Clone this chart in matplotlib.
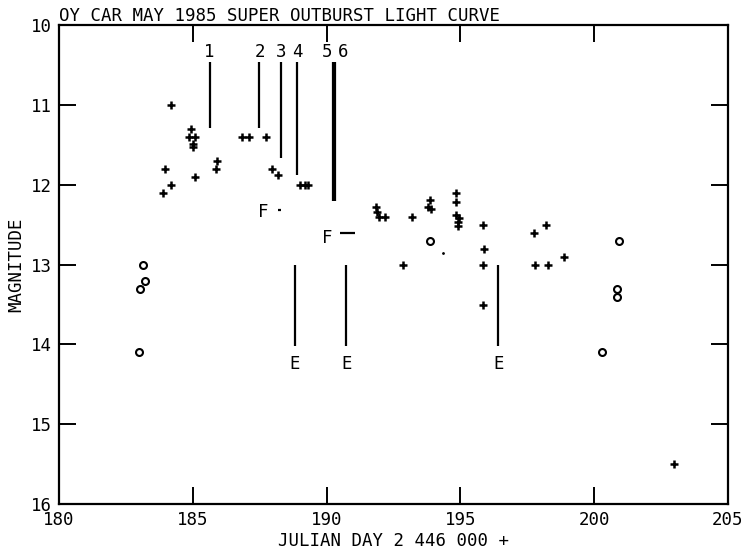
# oy_car_lightcurve.py
import matplotlib
matplotlib.use("Agg")
import matplotlib.pyplot as plt

OUT_PATH = "out.png"

# visual estimates (+), JD 2446000 + day
plus_days = [183.9, 183.95, 184.2, 184.2,
             184.95, 184.85, 185.1, 185.0, 185.0, 185.1,
             185.9, 185.85,
             186.85, 187.1, 187.75,
             187.95, 188.2,
             189.0, 189.2, 189.3,
             191.85, 191.9, 191.95, 192.2,
             192.85, 193.2,
             193.85, 193.8, 193.9,
             194.85, 194.85,
             194.85, 194.95, 194.9, 194.9,
             195.83, 195.9, 195.83, 195.85,
             197.75, 198.2, 197.8, 198.27, 198.87,
             203.0]
plus_mags = [12.1, 11.8, 12.0, 11.0,
             11.3, 11.4, 11.4, 11.48, 11.52, 11.9,
             11.7, 11.8,
             11.4, 11.4, 11.4,
             11.8, 11.88,
             12.0, 12.0, 12.0,
             12.28, 12.34, 12.4, 12.4,
             13.0, 12.4,
             12.19, 12.27, 12.3,
             12.1, 12.21,
             12.38, 12.42, 12.47, 12.51,
             12.5, 12.8, 13.0, 13.5,
             12.6, 12.5, 13.0, 13.0, 12.9,
             15.5]

# open circles
circle_days = [183.13, 183.2, 183.03, 183.0, 193.85, 200.3, 200.92, 200.85, 200.85]
circle_mags = [13.0, 13.2, 13.3, 14.1, 12.7, 14.1, 12.7, 13.3, 13.4]

# numbered markers at the top
event_labels = ["1", "2", "3", "4", "5", "6"]
event_days = [185.63, 187.49, 188.28, 188.91, 190.23, 190.31]
event_label_days = [185.6, 187.5, 188.3, 188.9, 190.0, 190.6]
event_bottoms = [11.29, 11.29, 11.66, 11.87, 12.2, 12.2]

# E markers
e_days = [188.82, 190.73, 196.42]

# F markers with their dashes
f_days = [187.62, 190.02]
f_mags = [12.34, 12.66]
f_dash_start = [188.2, 190.5]
f_dash_end = [188.3, 191.05]
f_dash_mags = [12.31, 12.6]

FONT = "DejaVu Sans Mono"


def main():
    plt.rcParams["font.family"] = FONT
    plt.rcParams["font.size"] = 12.5

    fig = plt.figure(figsize=(7.43, 5.54), dpi=100)
    ax = fig.add_axes([0.0794, 0.0903, 0.9004, 0.8637])

    ax.plot(plus_days, plus_mags, linestyle="none", marker="+",
            color="black", markersize=6, markeredgewidth=1.8)
    ax.plot(circle_days, circle_mags, linestyle="none", marker="o",
            markerfacecolor="none", markeredgecolor="black",
            markersize=5, markeredgewidth=1.5)
    ax.plot([194.34], [12.85], linestyle="none", marker=".",
            color="black", markersize=2)

    for lab, x, xl, yb in zip(event_labels, event_days, event_label_days, event_bottoms):
        ax.vlines(x, 10.46, yb, color="black", linewidth=1.6)
        ax.text(xl, 10.33, lab, ha="center", va="center")

    for x in e_days:
        ax.vlines(x, 13.0, 14.02, color="black", linewidth=1.6)
        ax.text(x, 14.25, "E", ha="center", va="center")

    for x, y in zip(f_days, f_mags):
        ax.text(x, y, "F", ha="center", va="center")
    ax.hlines(f_dash_mags, f_dash_start, f_dash_end, color="black", linewidth=1.6)

    ax.set_xlim(180, 205)
    ax.set_ylim(16, 10)
    ax.set_xticks([180, 185, 190, 195, 200, 205])
    ax.set_yticks([10, 11, 12, 13, 14, 15, 16])
    ax.tick_params(direction="in", length=12, width=1.4, top=True, right=True,
                   labelsize=12.5, pad=5)
    for sp in ax.spines.values():
        sp.set_linewidth(1.6)

    ax.set_xlabel("JULIAN DAY 2 446 000 +", labelpad=2)
    ax.set_ylabel("MAGNITUDE", labelpad=4)
    ax.text(0.0, 1.0, "OY CAR MAY 1985 SUPER OUTBURST LIGHT CURVE",
            transform=ax.transAxes, ha="left", va="bottom")

    fig.savefig(OUT_PATH, dpi=100)
    plt.close(fig)
    print(f"Saved chart to {OUT_PATH}")


if __name__ == "__main__":
    main()
